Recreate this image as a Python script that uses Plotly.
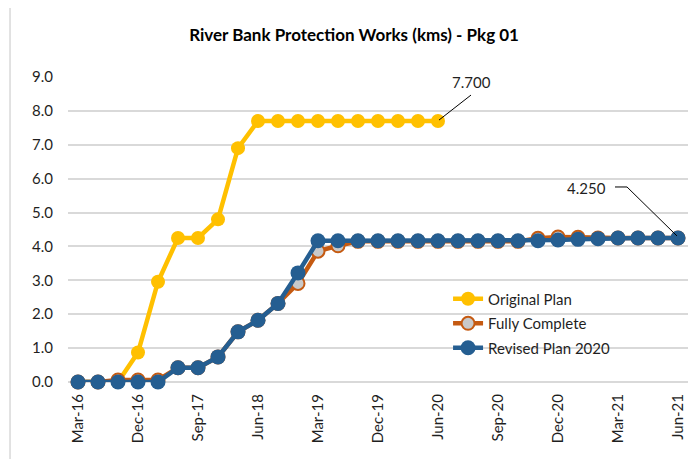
import plotly.graph_objects as go

# quarter-ish reporting dates (Excel showed every 3rd label)
periods = [
    "Mar-16", "Jun-16", "Sep-16", "Dec-16", "Mar-17", "Jun-17", "Sep-17", "Dec-17",
    "Mar-18", "Jun-18", "Sep-18", "Dec-18", "Mar-19", "Jun-19", "Sep-19", "Dec-19",
    "Feb-20", "Apr-20", "Jun-20", "Jul-20", "Aug-20", "Sep-20", "Oct-20", "Nov-20",
    "Dec-20", "Jan-21", "Feb-21", "Mar-21", "Apr-21", "May-21", "Jun-21",
]
tick_labels = periods[::3]

original_plan = [0, 0, 0, 0.87, 2.96, 4.25, 4.25, 4.80, 6.90, 7.70, 7.70, 7.70,
                 7.70, 7.70, 7.70, 7.70, 7.70, 7.70, 7.70]
fully_complete = [0, 0, 0.06, 0.06, 0.06, 0.42, 0.42, 0.74, 1.48, 1.82, 2.32, 2.91,
                  3.86, 4.02, 4.15, 4.15, 4.15, 4.15, 4.15, 4.15, 4.15, 4.15, 4.15,
                  4.24, 4.28, 4.27, 4.25, 4.25, 4.25, 4.25, 4.25]
revised_plan = [0, 0, 0, 0, 0, 0.42, 0.42, 0.74, 1.48, 1.82, 2.32, 3.22,
                4.17, 4.17, 4.17, 4.17, 4.17, 4.17, 4.17, 4.17, 4.17, 4.17, 4.17,
                4.17, 4.19, 4.21, 4.23, 4.25, 4.25, 4.25, 4.25]

FONT = "Lato, 'Open Sans', sans-serif"
GRID = "#d9d9d9"
TXT = "#1f1f1f"

fig = go.Figure()
fig.add_trace(go.Scatter(
    x=periods[:len(original_plan)], y=original_plan, name="Original Plan",
    mode="lines+markers", legendgroup="a",
    line=dict(color="#FFC000", width=4.5),
    marker=dict(color="#FFC000", size=14),
    cliponaxis=False,
))
fig.add_trace(go.Scatter(
    x=periods, y=fully_complete, name="Fully Complete",
    mode="lines+markers", legendgroup="b",
    line=dict(color="#C55A11", width=4.5),
    marker=dict(color="#C9C9C9", size=13, line=dict(color="#C55A11", width=2)),
    cliponaxis=False,
))
fig.add_trace(go.Scatter(
    x=periods, y=revised_plan, name="Revised Plan 2020",
    mode="lines+markers", legendgroup="c",
    line=dict(color="#255E91", width=4.5),
    marker=dict(color="#255E91", size=15),
    cliponaxis=False,
))

# data labels with leader lines
i_orig = len(original_plan) - 1
i_rev = len(revised_plan) - 1
fig.add_annotation(x=periods[i_orig], y=original_plan[i_orig], text=f"{original_plan[i_orig]:.3f}",
                   showarrow=False, xshift=33, yshift=39, font=dict(size=15, color=TXT))
fig.add_annotation(x=periods[i_rev], y=revised_plan[i_rev], text=f"{revised_plan[i_rev]:.3f}",
                   showarrow=False, xshift=-92, yshift=50, font=dict(size=15, color=TXT))
fig.add_shape(type="path", xref="x", yref="y", xsizemode="pixel", ysizemode="pixel",
              xanchor=i_orig, yanchor=original_plan[i_orig],
              path="M 1,1 L 33,26", line=dict(color="black", width=1))
fig.add_shape(type="path", xref="x", yref="y", xsizemode="pixel", ysizemode="pixel",
              xanchor=i_rev, yanchor=revised_plan[i_rev],
              path="M -1,2 L -51,51 L -63,51", line=dict(color="black", width=1))

# chart-area border (partly cropped in the original)
fig.add_shape(type="path", xref="paper", yref="paper",
              path="M -0.0935,-0.5 L -0.0935,1.2295 L 1.3,1.2295",
              line=dict(color="#d9d9d9", width=1.5))

# page body has an 8px margin, so the figure is sized/offset to compensate
fig.update_layout(
    width=688, height=451,
    margin=dict(l=60, r=8, t=69, b=77),
    paper_bgcolor="white", plot_bgcolor="white",
    font=dict(family=FONT, color=TXT, size=15),
    title=dict(text="<b>River Bank Protection Works (kms) - Pkg 01</b>",
               x=0.503, xanchor="center", y=0.94, yanchor="middle",
               font=dict(size=17, color="black")),
    showlegend=True,
    legend=dict(x=0.613, y=0.326, xanchor="left", yanchor="top",
                bgcolor="rgba(0,0,0,0)", tracegroupgap=2,
                font=dict(size=15, color=TXT)),
)
fig.update_xaxes(
    type="category", range=[-0.5, len(periods) - 0.5],
    tickmode="array", tickvals=tick_labels, ticktext=tick_labels,
    tickangle=-90, showgrid=False, showline=False, ticks="",
    ticklabelstandoff=8, tickfont=dict(size=15),
)
fig.update_yaxes(
    range=[0, 9], dtick=1, tickformat=".1f",
    showgrid=True, gridcolor=GRID, gridwidth=1.5,
    zeroline=True, zerolinecolor=GRID, zerolinewidth=1.5,
    showline=False, ticks="", ticklabelstandoff=14, tickfont=dict(size=15),
)

fig.write_html("out.html")
